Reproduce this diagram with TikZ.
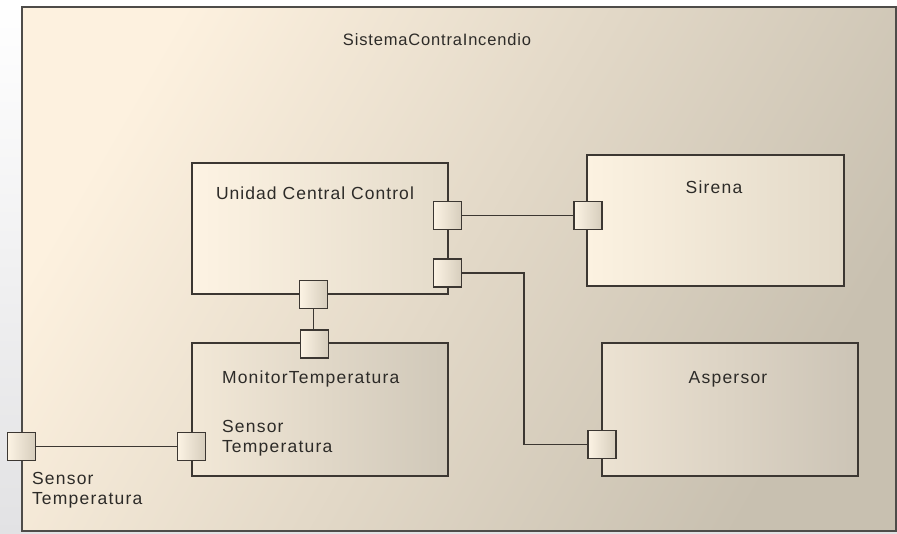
\documentclass[tikz,border=0pt]{standalone}
\usepackage{fontspec}
\setmainfont{Liberation Sans}[LetterSpace=7]
\begin{document}
\definecolor{framelt}{RGB}{253,241,223}
\definecolor{framedk}{RGB}{200,192,176}
\definecolor{edge}{RGB}{60,55,50}
\definecolor{txt}{RGB}{45,43,40}
\begin{tikzpicture}[x=1pt,y=-1pt,
  every node/.style={inner sep=0pt, outer sep=0pt},
  compbox/.style={draw=edge, line width=1.6pt, rectangle},
  portbox/.style={draw=edge, line width=1.5pt, rectangle,
    minimum width=28pt, minimum height=28pt,
    left color={rgb,255:red,252;green,243;blue,228},
    right color={rgb,255:red,214;green,205;blue,188}},
  lbl/.style={text=txt, font=\fontsize{17.5}{20}\selectfont, align=left},
  wire/.style={draw=edge, line width=1.6pt}]
  \useasboundingbox (0,0) rectangle (897,534);
  % page backdrop
  \shade[top color=white, bottom color={rgb,255:red,226;green,226;blue,228}] (0,0) rectangle (897,534);
  % enclosing system frame
  \shade[left color=framelt, right color=framedk, shading angle=60] (22,7) rectangle (896,531);
  \node[draw={rgb,255:red,78;green,76;blue,73}, line width=1.8pt, minimum width=874pt, minimum height=524pt] (frame) at (459,269) {};
  \node[lbl, anchor=base, font=\fontsize{16.5}{20}\selectfont\addfontfeatures{LetterSpace=5}] (title) at (437,46) {SistemaContraIncendio};

  % components
  \node[compbox, minimum width=256pt, minimum height=131pt,
    left color={rgb,255:red,253;green,243;blue,227}, right color={rgb,255:red,228;green,219;blue,202}] (ucc) at (320,228.5) {};
  \node[lbl, anchor=base west, font=\fontsize{17.5}{20}\selectfont\addfontfeatures{LetterSpace=6}] (ucclbl) at (216,199.5) {Unidad Central Control};

  \node[compbox, minimum width=257pt, minimum height=131pt,
    left color={rgb,255:red,252;green,242;blue,225}, right color={rgb,255:red,226;green,217;blue,200}] (sir) at (715.5,220.5) {};
  \node[lbl, anchor=base] (sirlbl) at (714,193.5) {Sirena};

  \node[compbox, minimum width=256pt, minimum height=133pt,
    left color={rgb,255:red,242;green,232;blue,215}, right color={rgb,255:red,208;green,200;blue,185}] (mon) at (320,409.5) {};
  \node[lbl, anchor=base west] (monlbl) at (222,383.5) {MonitorTemperatura};
  \node[lbl, anchor=north west] (monsens) at (222,420.5) {Sensor\\Temperatura};

  \node[compbox, minimum width=256pt, minimum height=133pt,
    left color={rgb,255:red,236;green,226;blue,210}, right color={rgb,255:red,204;green,196;blue,182}] (asp) at (730,409.5) {};
  \node[lbl, anchor=base] (asplbl) at (728,383.5) {Aspersor};

  % ports
  \node[portbox] (u1) at (447.5,215.5) {};
  \node[portbox] (u2) at (447.5,273) {};
  \node[portbox] (ub) at (313.5,294.5) {};
  \node[portbox] (mt) at (314.5,344) {};
  \node[portbox] (ml) at (191.5,446.5) {};
  \node[portbox] (op) at (21.5,446.5) {};
  \node[portbox] (sp) at (588,215.5) {};
  \node[portbox] (ap) at (602,444.5) {};
  \node[lbl, anchor=north west] (oplbl) at (32,472.5) {Sensor\\Temperatura};

  % connectors
  \draw[wire] (u1.east) -- (sp.west);
  \draw[wire] (u2.east) -- ++(62.5,0) |- (ap.west);
  \draw[wire] (ub.south) -- (ub.south |- mt.north);
  \draw[wire] (op.east) -- (ml.west);
\end{tikzpicture}
\end{document}
